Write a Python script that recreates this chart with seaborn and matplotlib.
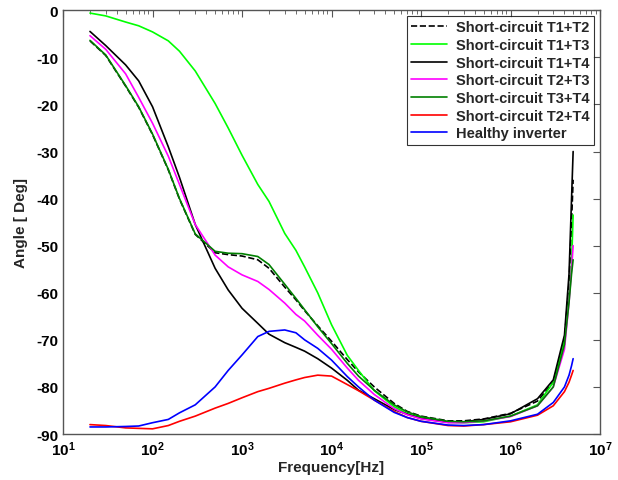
import numpy as np
import pandas as pd
import seaborn as sns
import matplotlib.pyplot as plt

# Frequency grid [Hz] and phase angle [deg]
freq = [20, 30, 50, 70, 100, 150, 200, 300, 500, 700,
        1e3, 1.5e3, 2e3, 3e3, 4e3, 5e3, 7e3,
        1e4, 1.5e4, 2e4, 3e4, 5e4, 7e4,
        1e5, 2e5, 3e5, 5e5, 1e6, 2e6, 3e6, 4e6, 4.5e6, 4.8e6, 5e6]

sc_t1_t2 = [-6.5, -9.6, -16.1, -20.6, -26.4, -33.9, -40.1, -47.6, -51.5, -51.9,
            -52.2, -53.0, -54.8, -58.8, -61.5, -63.8, -67.0,
            -70.3, -74.2, -76.8, -80.0, -83.5, -85.2,
            -86.2, -87.2, -87.2, -86.8, -85.6, -83.0, -79.0, -70.0, -58.0, -45.0, -36.0]
sc_t1_t3 = [-0.6, -1.2, -2.5, -3.3, -4.6, -6.5, -8.7, -12.9, -19.8, -25.0,
            -30.8, -37.0, -40.6, -47.4, -51.0, -54.5, -60.0,
            -66.8, -73.3, -76.5, -80.8, -84.2, -85.7,
            -86.5, -87.5, -87.6, -87.4, -86.2, -83.8, -79.0, -70.0, -61.0, -54.0, -43.5]
sc_t1_t4 = [-4.5, -7.5, -11.6, -15.0, -20.5, -29.0, -35.5, -45.5, -54.8, -59.4,
            -63.3, -66.5, -68.8, -70.6, -71.6, -72.4, -74.0,
            -76.0, -78.6, -80.7, -82.5, -84.8, -85.8,
            -86.7, -87.5, -87.4, -86.9, -85.7, -82.5, -78.5, -69.0, -56.0, -40.0, -30.0]
sc_t2_t3 = [-5.4, -8.3, -13.5, -18.5, -24.0, -31.0, -37.0, -45.5, -52.0, -54.5,
            -56.2, -57.6, -59.3, -62.2, -64.6, -66.0, -69.0,
            -72.0, -76.0, -78.6, -81.6, -84.6, -85.9,
            -86.8, -87.6, -87.6, -87.2, -86.3, -84.0, -80.0, -72.0, -62.0, -55.0, -50.0]
sc_t3_t4 = [-6.4, -9.5, -16.0, -20.5, -26.3, -33.8, -40.0, -47.5, -51.2, -51.6,
            -51.7, -52.3, -54.0, -58.2, -61.2, -63.6, -67.2,
            -70.8, -75.0, -77.7, -80.7, -83.8, -85.3,
            -86.3, -87.3, -87.4, -87.2, -86.2, -84.0, -80.0, -71.0, -62.0, -56.0, -53.0]
sc_t2_t4 = [-88.0, -88.2, -88.7, -88.8, -88.9, -88.2, -87.3, -86.2, -84.5, -83.5,
            -82.3, -81.0, -80.3, -79.2, -78.5, -78.0, -77.5,
            -77.7, -79.5, -80.8, -82.8, -85.2, -86.5,
            -87.3, -88.2, -88.3, -88.0, -87.4, -86.0, -84.0, -81.0, -79.0, -77.5, -76.5]
healthy = [-88.5, -88.5, -88.4, -88.3, -87.6, -86.9, -85.5, -83.8, -80.0, -76.5,
           -73.2, -69.3, -68.2, -67.9, -68.5, -70.0, -71.8,
           -74.3, -77.8, -80.0, -82.8, -85.4, -86.5,
           -87.3, -88.1, -88.2, -88.0, -87.2, -85.8, -83.3, -80.0, -77.5, -75.5, -74.0]

series_names = ["Short-circuit T1+T2", "Short-circuit T1+T3", "Short-circuit T1+T4",
                "Short-circuit T2+T3", "Short-circuit T3+T4", "Short-circuit T2+T4",
                "Healthy inverter"]
series_values = [sc_t1_t2, sc_t1_t3, sc_t1_t4, sc_t2_t3, sc_t3_t4, sc_t2_t4, healthy]
series_colors = ["black", "#00ff00", "black", "#ff00ff", "#008000", "#ff0000", "#0000ff"]
series_styles = ["--", "-", "-", "-", "-", "-", "-"]

xtick_pos = [1e1, 1e2, 1e3, 1e4, 1e5, 1e6, 1e7]
xtick_labels = [r"$\mathbf{10^{%d}}$" % k for k in range(1, 8)]
ytick_pos = [0, -10, -20, -30, -40, -50, -60, -70, -80, -90]

sns.set_style("white")
plt.rcParams["font.family"] = ["Liberation Sans", "DejaVu Sans"]
plt.rcParams["font.weight"] = "bold"
plt.rcParams["axes.unicode_minus"] = False
plt.rcParams["mathtext.fontset"] = "custom"
plt.rcParams["mathtext.bf"] = "Liberation Sans:bold"
plt.rcParams["mathtext.rm"] = "Liberation Sans:bold"

fig = plt.figure(figsize=(6.18, 4.81), dpi=100)
ax = fig.add_axes([0.102, 0.0956, 0.869, 0.881])

for name, vals, col, ls in zip(series_names, series_values, series_colors, series_styles):
    df = pd.DataFrame({"freq": freq, "angle": vals})
    sns.lineplot(data=df, x="freq", y="angle", ax=ax, color=col, linestyle=ls,
                 linewidth=1.2, label=name)

ax.set_xscale("log")
ax.set_xlim(1e1, 1e7)
ax.set_ylim(-90, 0)
ax.set_xticks(xtick_pos)
ax.set_xticklabels(xtick_labels)
ax.set_yticks(ytick_pos)
ax.tick_params(axis="both", which="both", direction="in", top=True, right=True,
               labelsize=11, color="#555555", labelcolor="black")
ax.tick_params(axis="both", which="major", length=5, width=0.8)
ax.tick_params(axis="x", which="minor", length=3, width=0.6)
ax.tick_params(axis="x", which="major", pad=4)
for lab in ax.get_yticklabels():
    lab.set_fontweight("bold")

for sp in ax.spines.values():
    sp.set_color("#555555")
    sp.set_linewidth(1.0)

ax.set_xlabel("Frequency[Hz]", fontsize=11, fontweight="bold", labelpad=1)
ax.set_ylabel("Angle [ Deg]", fontsize=11, fontweight="bold", labelpad=6)

leg = ax.legend(loc="upper right", fontsize=10.5, frameon=True, fancybox=False,
                handlelength=2.5, borderpad=0.3, labelspacing=0.25,
                handletextpad=0.6, borderaxespad=0.4)
leg.get_frame().set_edgecolor("black")
leg.get_frame().set_linewidth(0.8)
for t in leg.get_texts():
    t.set_fontweight("bold")

fig.savefig("out.png", dpi=100)
